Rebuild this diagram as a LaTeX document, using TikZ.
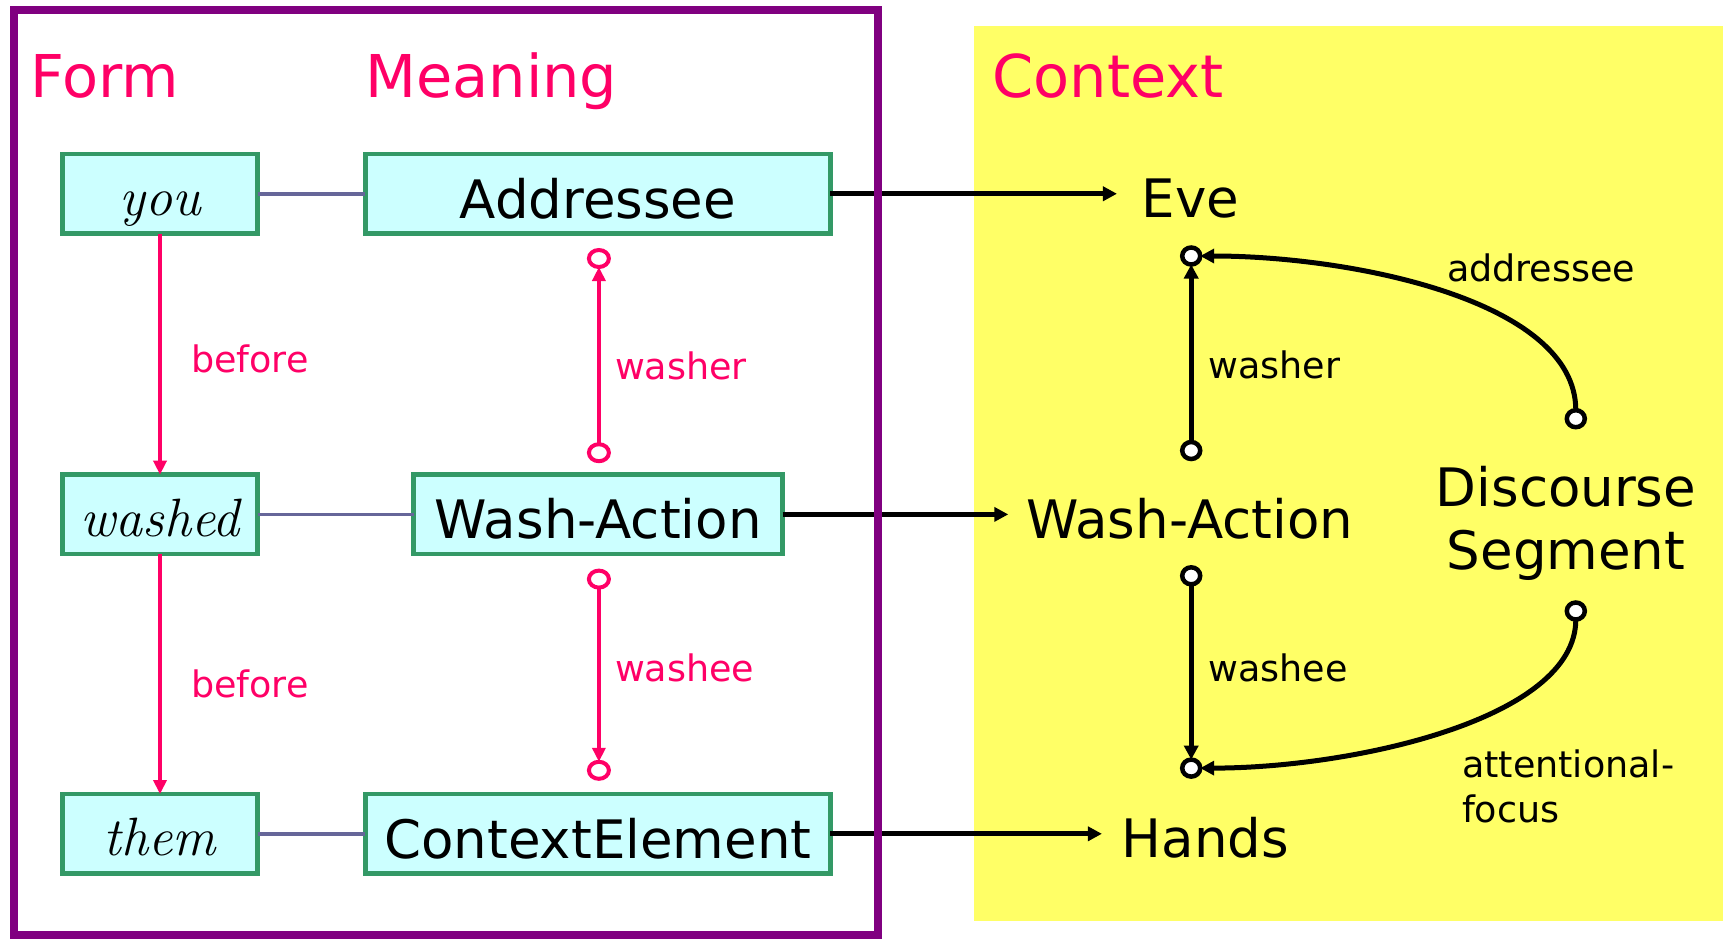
\documentclass[tikz,border=0pt]{standalone}
\usepackage{fontspec}
\newfontfamily\labelfont{DejaVu Sans}
\usetikzlibrary{arrows.meta,shapes.geometric}

\definecolor{accent}{HTML}{FF0066}
\definecolor{framecol}{HTML}{800080}
\definecolor{ctxbg}{HTML}{FFFF66}
\definecolor{boxfill}{HTML}{CCFFFF}
\definecolor{boxline}{HTML}{339966}
\definecolor{linkcol}{HTML}{666699}

\begin{document}
\begin{tikzpicture}[x=1pt,y=-1pt,
  every node/.style={inner sep=0pt,outer sep=0pt},
  heading/.style={anchor=base west,text=accent,font=\labelfont\fontsize{59}{66}\selectfont},
  formbox/.style={draw=boxline,fill=boxfill,line width=4.5pt,minimum width=195pt,minimum height=79.5pt,
    text height=52pt,text depth=8pt,font=\itshape\fontsize{54}{60}\selectfont},
  meanbox/.style={draw=boxline,fill=boxfill,line width=4.5pt,minimum height=79.5pt,
    text height=57pt,text depth=8pt,font=\labelfont\fontsize{53}{58}\selectfont},
  ctxlabel/.style={anchor=base,font=\labelfont\fontsize{53}{62.7}\selectfont},
  smalllabel/.style={anchor=west,font=\labelfont\fontsize{36.5}{45}\selectfont},
  pinkdot/.style={ellipse,draw=accent,fill=white,line width=4pt,minimum width=20pt,minimum height=17pt},
  blackdot/.style={ellipse,draw=black,fill=white,line width=4.5pt,minimum width=18pt,minimum height=17pt},
  formlink/.style={draw=linkcol,line width=3.5pt},
  pinkarrow/.style={draw=accent,line width=4pt,-{Triangle[length=14pt,width=13pt]}},
  ctxarrow/.style={draw=black,line width=5pt,-{Triangle[length=14pt,width=14pt]}}
]
\useasboundingbox (0,0) rectangle (1723,938);

% context panel
\fill[ctxbg] (973.6,26.4) rectangle (1723,920.9);

% headings
\node[heading] (hform) at (30.3,97.5) {Form};
\node[heading] (hmeaning) at (365.4,97.5) {Meaning};
\node[heading] (hcontext) at (992.5,97.5) {Context};

% form and meaning boxes
\node[formbox] (you) at (160,193.75) {you};
\node[formbox] (washed) at (160,514.4) {washed};
\node[formbox] (them) at (160,833.8) {them};
\node[meanbox,minimum width=465pt] (addr) at (597.9,193.75) {Addressee};
\node[meanbox,minimum width=369pt] (wash) at (598.2,514.4) {Wash-Action};
\node[meanbox,minimum width=465pt] (celem) at (597.9,833.8) {ContextElement};

% form to meaning links
\draw[formlink] (you.east) -- (addr.west);
\draw[formlink] (washed.east) -- (wash.west);
\draw[formlink] (them.east) -- (celem.west);

% word order
\draw[pinkarrow] (you.south) -- (washed.north);
\draw[pinkarrow] (washed.south) -- (them.north);
\node[smalllabel,text=accent] (before1) at (191,359.3) {before};
\node[smalllabel,text=accent] (before2) at (191,683.5) {before};

% meaning roles
\node[pinkdot] (m1) at (598.9,258.5) {};
\node[pinkdot] (m2) at (598.9,452.7) {};
\node[pinkdot] (m3) at (598.9,579.1) {};
\node[pinkdot] (m4) at (598.9,770.3) {};
\draw[pinkarrow] (m2.north) -- (m1.south);
\draw[pinkarrow] (m3.south) -- (m4.north);
\node[smalllabel,text=accent] (mwasher) at (615,366) {washer};
\node[smalllabel,text=accent] (mwashee) at (615,668) {washee};

% context entities
\node[ctxlabel] (eve) at (1190.7,217) {Eve};
\node[ctxlabel] (cwash) at (1189.6,538) {Wash-Action};
\node[ctxlabel] (hands) at (1205.5,857.8) {Hands};
\node[anchor=center,align=center,font=\labelfont\fontsize{53}{62.7}\selectfont] (dseg) at (1566,523.5) {Discourse\\Segment};

% context role slots
\node[blackdot] (c1) at (1191.2,256) {};
\node[blackdot] (c2) at (1191.2,450.5) {};
\node[blackdot] (c3) at (1191.2,575.8) {};
\node[blackdot] (c4) at (1191.2,768.1) {};
\node[blackdot] (d1) at (1575.8,418.7) {};
\node[blackdot] (d2) at (1575.8,611) {};

\draw[ctxarrow] (c2.north) -- (c1.south);
\draw[ctxarrow] (c3.south) -- (c4.north);
\draw[ctxarrow] (d1.north) .. controls (1575.8,300) and (1350,256) .. (c1.east);
\draw[ctxarrow] (d2.south) .. controls (1575.8,720) and (1350,768.1) .. (c4.east);
\node[smalllabel] (cwasher) at (1208.5,364.8) {washer};
\node[smalllabel] (cwashee) at (1208.5,668) {washee};
\node[smalllabel] (caddr) at (1447,268) {addressee};
\node[anchor=north west,align=left,font=\labelfont\fontsize{36.5}{45}\selectfont] (cfocus) at (1462,750) {attentional-\\focus};

% meaning to context
\draw[ctxarrow,shorten >=25pt] (addr.east) -- (addr.east -| eve.west);
\draw[ctxarrow,shorten >=18pt] (wash.east) -- (wash.east -| cwash.west);
\draw[ctxarrow,shorten >=20pt] (celem.east) -- (celem.east -| hands.west);

% form-meaning frame
\draw[framecol,line width=8pt] (14.4,10) rectangle (878,935);
\end{tikzpicture}
\end{document}
